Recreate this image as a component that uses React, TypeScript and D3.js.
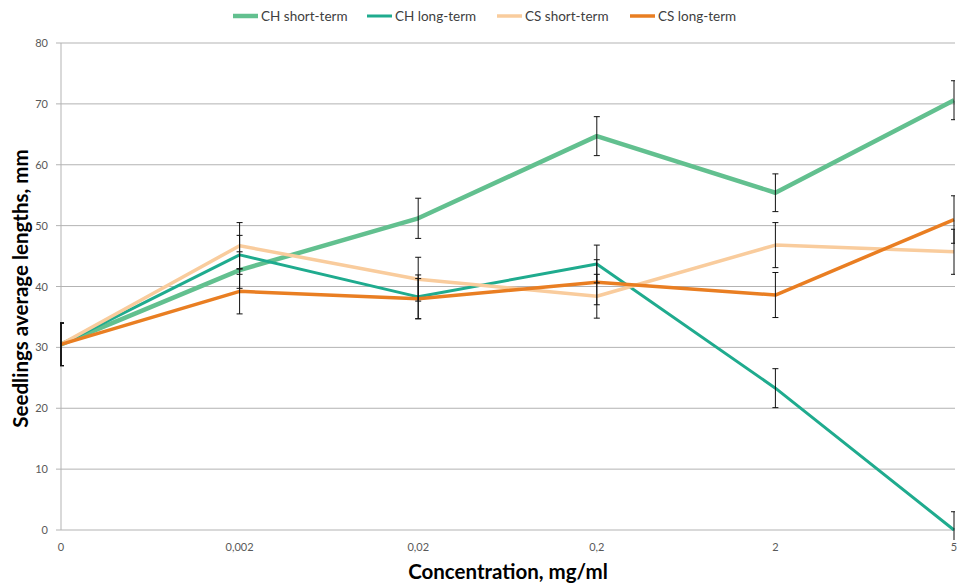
import React from "react";
import * as d3 from "d3";

const categories = ["0", "0,002", "0,02", "0,2", "2", "5"];
const yTicks = [0, 10, 20, 30, 40, 50, 60, 70, 80];
const seriesNames = ["CH short-term", "CH long-term", "CS short-term", "CS long-term"];
const chShort = [30.5, 42.7, 51.2, 64.7, 55.4, 70.6];
const chShortErr = [3.5, 3.0, 3.3, 3.2, 3.1, 3.2];
const chLong = [30.5, 45.2, 38.3, 43.7, 23.3, 0];
const chLongErr = [3.5, 3.2, 3.6, 3.1, 3.2, 3.0];
const csShort = [30.5, 46.7, 41.2, 38.4, 46.8, 45.7];
const csShortErr = [3.5, 3.8, 3.6, 3.6, 3.7, 3.7];
const csLong = [30.5, 39.2, 38.0, 40.7, 38.6, 51.0];
const csLongErr = [3.5, 3.7, 3.3, 3.7, 3.7, 3.9];

const colors = ["#62c08f", "#1fab8e", "#f9cc9d", "#e97e22"];
const widths = [4.5, 3, 3.5, 3.5];

const W = 957, H = 584;
const L = 61, R = 954, T = 43, B = 530;

export default function App() {
  const x = d3.scalePoint<string>().domain(categories).range([L, R]);
  const y = d3.scaleLinear().domain([0, 80]).range([B, T]);
  const data = [chShort, chLong, csShort, csLong];
  const errs = [chShortErr, chLongErr, csShortErr, csLongErr];
  const line = d3.line<number>().x((_, i) => x(categories[i])!).y((d) => y(d));
  const font = "Lato, 'Open Sans', sans-serif";
  const legendX = [233, 367, 497, 630];
  return (
    <svg width={W} height={H} style={{ position: "absolute", left: 0, top: 0, background: "#fff" }} fontFamily={font}>
      <defs>
        <clipPath id="pc"><rect x={L - 1} y={T - 10} width={R - L + 2} height={B - T + 20} /></clipPath>
      </defs>
      {yTicks.map((t) => (
        <g key={t}>
          <line x1={L - 5} x2={R + 1} y1={y(t)} y2={y(t)} stroke="#b3b3b3" strokeWidth={1} />
          <text x={48} y={y(t) + 4} textAnchor="end" fontSize={11} fill="#595959">{t}</text>
        </g>
      ))}
      <line x1={L} x2={L} y1={T} y2={B} stroke="#b3b3b3" strokeWidth={1} />
      {categories.map((c) => (
        <text key={c} x={x(c)!} y={551} textAnchor="middle" fontSize={11} fill="#595959">{c}</text>
      ))}
      <g clipPath="url(#pc)">
        {data.map((d, si) => (
          <path key={si} d={line(d)!} fill="none" stroke={colors[si]} strokeWidth={widths[si]} strokeLinejoin="round" />
        ))}
        {data.map((d, si) =>
          d.map((v, i) => {
            const cx = x(categories[i])!;
            const e = errs[si][i];
            return (
              <g key={si + "-" + i} stroke="#111" strokeWidth={1}>
                <line x1={cx} x2={cx} y1={y(v + e)} y2={y(v - e)} />
                <line x1={cx - 3} x2={cx + 3} y1={y(v + e)} y2={y(v + e)} />
                <line x1={cx - 3} x2={cx + 3} y1={y(v - e)} y2={y(v - e)} />
              </g>
            );
          })
        )}
      </g>
      {seriesNames.map((n, i) => (
        <g key={n}>
          <line x1={legendX[i]} x2={legendX[i] + 25} y1={16} y2={16} stroke={colors[i]} strokeWidth={widths[i]} />
          <text x={legendX[i] + 28} y={20.5} fontSize={13.5} fill="#404040">{n}</text>
        </g>
      ))}
      <text x={508} y={579} textAnchor="middle" fontSize={20.5} fontWeight="bold" fill="#000">Concentration, mg/ml</text>
      <text transform={`translate(28, ${(T + B) / 2 + 2}) rotate(-90)`} textAnchor="middle" fontSize={20.5} fontWeight="bold" fill="#000">Seedlings average lengths, mm</text>
    </svg>
  );
}
